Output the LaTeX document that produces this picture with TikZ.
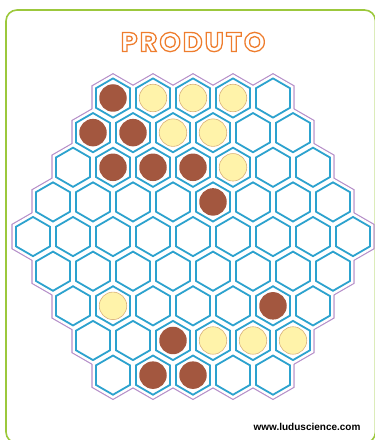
\documentclass[tikz,border=0pt]{standalone}
\usepackage{fontspec}
\setmainfont{Liberation Sans}
\newfontfamily\titlefont[LetterSpace=8]{Poppins}
\usetikzlibrary{positioning,shapes.geometric}
\usepackage{xcolor}
\definecolor{cellblue}{HTML}{2CA2CE}
\definecolor{rimpurple}{HTML}{B58FC9}
\definecolor{framegreen}{HTML}{9CC83C}
\definecolor{pieceBrown}{HTML}{A3573F}
\definecolor{pieceYellow}{HTML}{FFF3AA}
\definecolor{yellowRim}{HTML}{D9B27A}
\definecolor{titleOrange}{HTML}{EE7D2E}

\begin{document}
\begin{tikzpicture}[
  x=1pt, y=1pt,
  cell/.style={draw=cellblue, line width=1.8pt},
  brownpiece/.style={circle, fill=pieceBrown, inner sep=0pt, minimum size=27.5pt},
  yellowpiece/.style={circle, fill=pieceYellow, draw=yellowRim, line width=0.6pt,
                      inner sep=0pt, minimum size=27.5pt},
  heading/.style={font=\titlefont\bfseries\fontsize{27}{31}\selectfont, text=titleOrange},
  website/.style={font=\bfseries\fontsize{10}{12}\selectfont, anchor=east}
]
\useasboundingbox (0,0) rectangle (375,440);
\clip (0,0) rectangle (375,440);

% frame
\draw[framegreen, line width=1.6pt, rounded corners=11pt] (6,430) rectangle (375.5,-3);

% board: rim, white fill, then the cells
\foreach \r in {0,...,8}{
  \pgfmathtruncatemacro{\n}{9-abs(\r-4)}
  \foreach \c in {1,...,\n}{
    \pgfmathsetmacro{\cx}{193-(\n-1)*20+(\c-1)*40}
    \pgfmathsetmacro{\cy}{342-\r*34.641}
    \coordinate (cell-\r-\c) at (\cx,\cy);
    \draw[rimpurple, line width=3.2pt, line join=miter]
      (cell-\r-\c) +(90:23.094) -- +(30:23.094) -- +(-30:23.094) -- +(-90:23.094)
      -- +(-150:23.094) -- +(150:23.094) -- cycle;
  }
}
\foreach \r in {0,...,8}{
  \pgfmathtruncatemacro{\n}{9-abs(\r-4)}
  \foreach \c in {1,...,\n}{
    \filldraw[white, line width=0.8pt]
      (cell-\r-\c) +(90:23.094) -- +(30:23.094) -- +(-30:23.094) -- +(-90:23.094)
      -- +(-150:23.094) -- +(150:23.094) -- cycle;
  }
}
\foreach \r in {0,...,8}{
  \pgfmathtruncatemacro{\n}{9-abs(\r-4)}
  \foreach \c in {1,...,\n}{
    \draw[cell]
      (cell-\r-\c) +(90:19.6) -- +(30:19.6) -- +(-30:19.6) -- +(-90:19.6)
      -- +(-150:19.6) -- +(150:19.6) -- cycle;
  }
}

% pieces
\foreach \r/\c in {0/1, 1/1, 1/2, 2/2, 2/3, 2/4, 3/5, 6/6, 7/3, 8/2, 8/3}
  \node[brownpiece] (brown-\r-\c) at (cell-\r-\c) {};
\foreach \r/\c in {0/2, 0/3, 0/4, 1/3, 1/4, 2/5, 6/2, 7/4, 7/5, 7/6}
  \node[yellowpiece] (yellow-\r-\c) at (cell-\r-\c) {};

% title and site
\node[heading] (title) at (193,398) {\special{pdf:literal direct 1 Tr 1.3 w}PRODUTO\special{pdf:literal direct 0 Tr}};
\node[website] (site) at (364,13) {www.luduscience.com};
\end{tikzpicture}
\end{document}
